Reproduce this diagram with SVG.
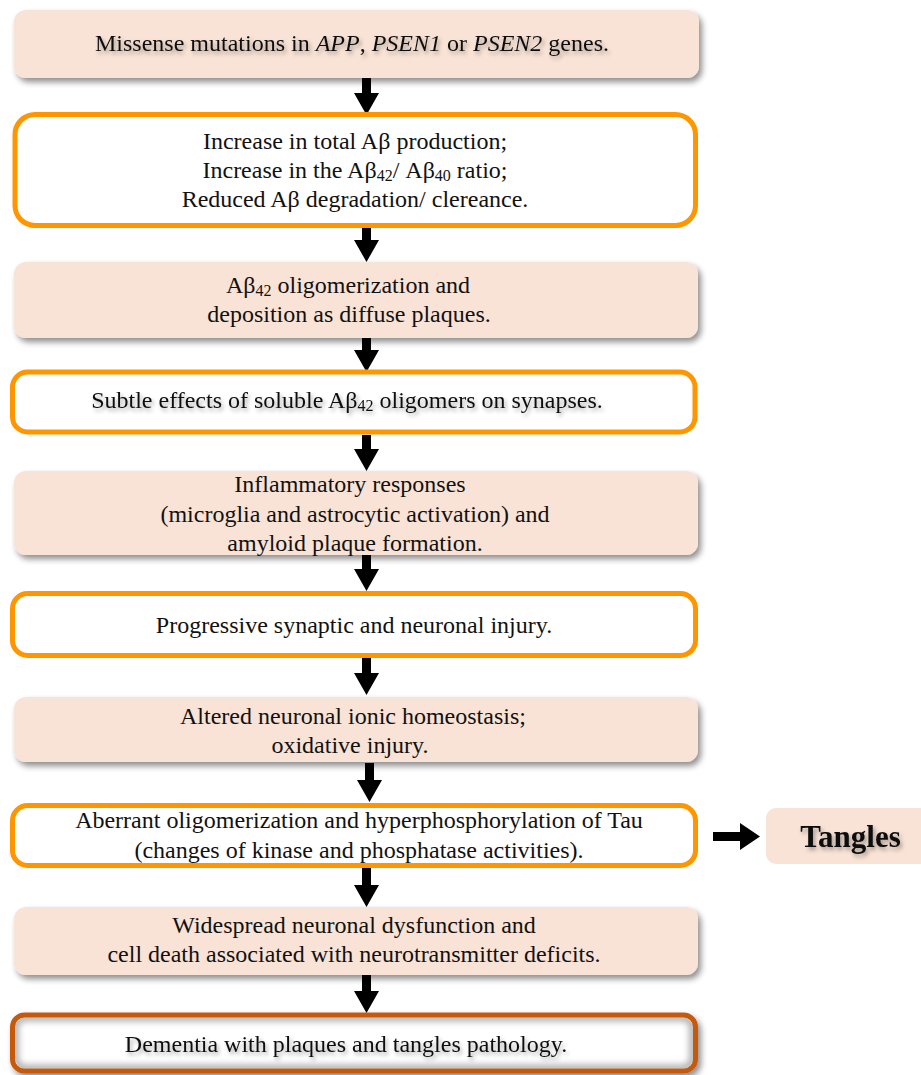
<svg xmlns="http://www.w3.org/2000/svg" width="921" height="1075" viewBox="0 0 921 1075">
<defs>
<filter id="sh" x="-5%" y="-20%" width="112%" height="150%">
<feGaussianBlur in="SourceAlpha" stdDeviation="3"/>
<feOffset dx="3" dy="4" result="b"/>
<feComponentTransfer><feFuncA type="linear" slope="0.45"/></feComponentTransfer>
<feMerge><feMergeNode/><feMergeNode in="SourceGraphic"/></feMerge>
</filter>
<filter id="ts" x="-5%" y="-30%" width="110%" height="170%">
<feGaussianBlur in="SourceAlpha" stdDeviation="2"/>
<feOffset dx="2" dy="3"/>
<feComponentTransfer><feFuncA type="linear" slope="0.35"/></feComponentTransfer>
<feMerge><feMergeNode/><feMergeNode in="SourceGraphic"/></feMerge>
</filter>
<filter id="blur" x="-5%" y="-20%" width="110%" height="140%">
<feGaussianBlur stdDeviation="3"/>
</filter>
<clipPath id="innerclip">
<rect x="15" y="1017.5" width="678" height="51" rx="10"/>
</clipPath>
</defs>
<style>
.peach{fill:#F9E3D6;}
.orange{fill:#fff;stroke:#FF9600;stroke-width:5;}
.dark{fill:#fff;stroke:#C55A11;stroke-width:5;}
text{font-family:"Liberation Serif","Times New Roman",serif;font-size:24px;fill:#111;text-anchor:middle;}
.sub{font-size:16px;}
.big{font-size:31px;font-weight:bold;}
.arr{fill:#000;}
</style>
<rect width="921" height="1075" fill="#fff"/>

<g id="connectors">
<polygon class="arr" points="362,78 371,78 371,93 379,93 366.5,115 354,93 362,93"/>
<polygon class="arr" points="362,228 371,228 371,240 379,240 366.5,262 354,240 362,240"/>
<polygon class="arr" points="362,338 371,338 371,350 379,350 366.5,372 354,350 362,350"/>
<polygon class="arr" points="362,435 371,435 371,449 379,449 366.5,471 354,449 362,449"/>
<polygon class="arr" points="362,555 371,555 371,569 379,569 366.5,591 354,569 362,569"/>
<polygon class="arr" points="362,658 371,658 371,673 379,673 366.5,695 354,673 362,673"/>
<polygon class="arr" points="365,763 374,763 374,780 382,780 369.5,802 357,780 365,780"/>
<polygon class="arr" points="362,868 371,868 371,885 379,885 366.5,907 354,885 362,885"/>
<polygon class="arr" points="362,975 371,975 371,991 379,991 366.5,1013 354,991 362,991"/>
<polygon class="arr" points="713,832 740,832 740,823 760,836.5 740,850 740,841 713,841"/>
</g>

<g id="n1">
<rect class="peach" x="14" y="10" width="685" height="68" rx="12" filter="url(#sh)"/>
<text x="352" y="51" filter="url(#ts)">Missense mutations in <tspan font-style="italic">APP</tspan>, <tspan font-style="italic">PSEN1</tspan> or <tspan font-style="italic">PSEN2</tspan> genes.</text>
</g>

<g id="n2">
<rect class="orange" x="15" y="114.5" width="680.5" height="111" rx="20"/>
<text x="355" y="149">Increase in total Aβ production;</text>
<text x="355" y="178">Increase in the Aβ<tspan class="sub" dy="3">42</tspan><tspan dy="-3">/ Aβ</tspan><tspan class="sub" dy="3">40</tspan><tspan dy="-3"> ratio;</tspan></text>
<text x="355" y="207">Reduced Aβ degradation/ clereance.</text>
</g>

<g id="n3">
<rect class="peach" x="14" y="262" width="684" height="76" rx="12" filter="url(#sh)"/>
<text x="348" y="293">Aβ<tspan class="sub" dy="3">42</tspan><tspan dy="-3"> oligomerization and</tspan></text>
<text x="349" y="322">deposition as diffuse plaques.</text>
</g>

<g id="n4">
<rect class="orange" x="12.5" y="372" width="682.5" height="60" rx="15"/>
<text x="347" y="408" filter="url(#ts)">Subtle effects of soluble Aβ<tspan class="sub" dy="3">42</tspan><tspan dy="-3"> oligomers on synapses.</tspan></text>
</g>

<g id="n5">
<rect class="peach" x="14" y="471" width="684" height="84" rx="12" filter="url(#sh)"/>
<text x="350" y="492">Inflammatory responses</text>
<text x="355" y="522">(microglia and astrocytic activation) and</text>
<text x="355" y="551">amyloid plaque formation.</text>
</g>

<g id="n6">
<rect class="orange" x="12.5" y="593.5" width="683" height="62" rx="15"/>
<text x="354" y="633">Progressive synaptic and neuronal injury.</text>
</g>

<g id="n7">
<rect class="peach" x="14" y="697" width="684" height="65" rx="12" filter="url(#sh)"/>
<text x="353" y="724">Altered neuronal ionic homeostasis;</text>
<text x="350" y="753">oxidative injury.</text>
</g>

<g id="n8">
<rect class="orange" x="12.5" y="805.5" width="683" height="60" rx="15"/>
<text x="359" y="828">Aberrant oligomerization and hyperphosphorylation of Tau</text>
<text x="359" y="858">(changes of kinase and phosphatase activities).</text>
</g>

<g id="n9">
<rect class="peach" x="14" y="907" width="684" height="68" rx="12" filter="url(#sh)"/>
<text x="354" y="933">Widespread neuronal dysfunction and</text>
<text x="354" y="962">cell death associated with neurotransmitter deficits.</text>
</g>

<g id="n10">
<rect class="dark" x="12.5" y="1015" width="683" height="56" rx="12" filter="url(#sh)"/>
<g clip-path="url(#innerclip)">
<rect x="15" y="1017.5" width="678" height="51" rx="10" fill="none" stroke="#000" stroke-opacity="0.3" stroke-width="8" filter="url(#blur)"/>
</g>
<text x="346" y="1052" filter="url(#ts)">Dementia with plaques and tangles pathology.</text>
</g>

<g id="n11">
<rect class="peach" x="766" y="808" width="170" height="56" rx="10"/>
<text class="big" x="850.5" y="847" filter="url(#ts)">Tangles</text>
</g>
</svg>
